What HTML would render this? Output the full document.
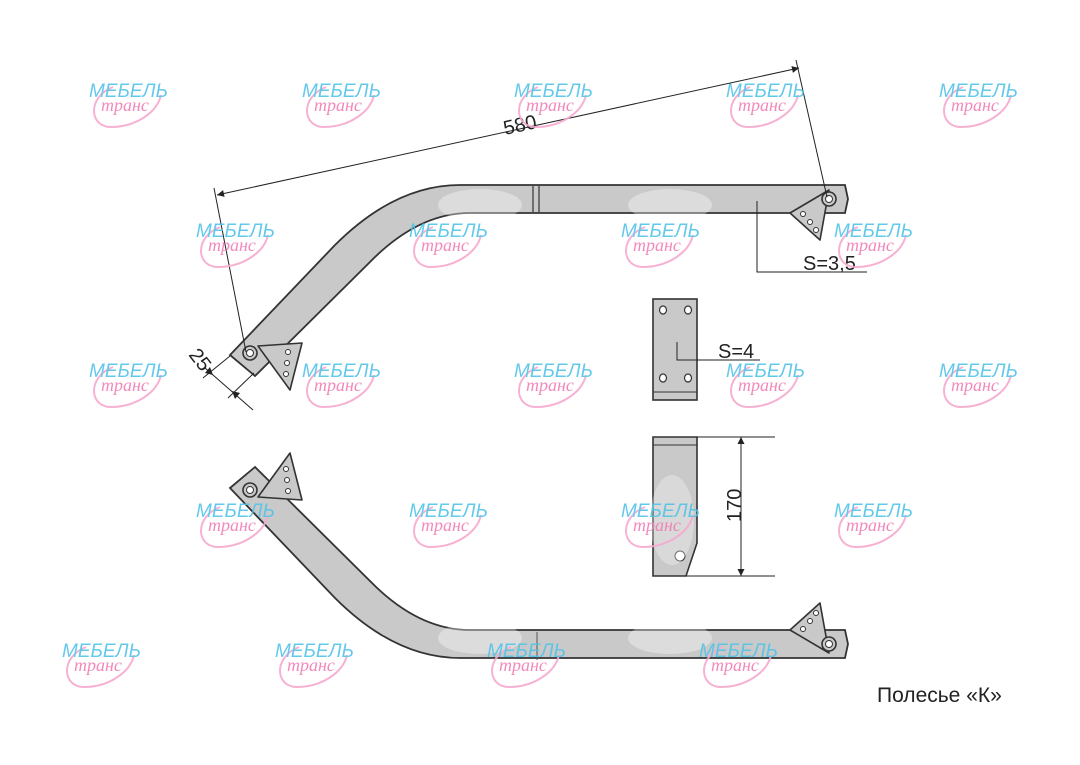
<!DOCTYPE html>
<html><head><meta charset="utf-8"><style>
html,body{margin:0;padding:0;background:#fff;width:1080px;height:765px;overflow:hidden}
svg{display:block}
text{font-family:"Liberation Sans",sans-serif}
.wm1{font-family:"Liberation Sans",sans-serif;font-style:italic;fill:#52c3e8;font-size:19px}
.wm2{font-family:"Liberation Serif",serif;font-style:italic;fill:#f17cb4;font-size:18px}
</style></head><body>
<svg width="1080" height="765" viewBox="0 0 1080 765" xmlns="http://www.w3.org/2000/svg">
<defs>
<g id="wm">
<path d="M-12,-10 C-38,0 -36,30 -14,30 C10,30 32,16 36,-2" fill="none" stroke="#f6a9cf" stroke-width="2"/>
<text x="-36" y="0" class="wm1">МЕБЕЛЬ</text>
<text x="-24" y="14" class="wm2">транс</text>
</g>
<marker id="ar" viewBox="0 0 10 10" refX="10" refY="5" markerWidth="13" markerHeight="7" orient="auto-start-reverse" markerUnits="userSpaceOnUse"><path d="M0,0 L10,5 L0,10z" fill="#222"/></marker>
<g id="bar">
<path d="M230,355 L335,245 Q395,185 460,185 L845,185 L848,199 L845,213 L470,213 Q418,213 370,262 L255,376 Z" fill="#c8c9c8" stroke="#333" stroke-width="1.8"/>
<path d="M258,346 L302,343 L290,390 Z" fill="#c8c9c8" stroke="#333" stroke-width="1.6" stroke-linejoin="round"/>
<circle cx="250" cy="353" r="7" fill="#c8c9c8" stroke="#333" stroke-width="1.6"/>
<circle cx="250" cy="353" r="3.5" fill="#fff" stroke="#333"/>
<circle cx="288" cy="352" r="2.5" fill="#fff" stroke="#333"/>
<circle cx="287" cy="363" r="2.5" fill="#fff" stroke="#333"/>
<circle cx="286" cy="374" r="2.5" fill="#fff" stroke="#333"/>
<path d="M829,190 L790,213 L820,240 Z" fill="#c8c9c8" stroke="#333" stroke-width="1.6" stroke-linejoin="round"/>
<circle cx="829" cy="199" r="7" fill="#c8c9c8" stroke="#333" stroke-width="1.6"/>
<circle cx="829" cy="199" r="3.5" fill="#fff" stroke="#333"/>
<circle cx="803" cy="214" r="2.5" fill="#fff" stroke="#333"/>
<circle cx="810" cy="222" r="2.5" fill="#fff" stroke="#333"/>
<circle cx="816" cy="230" r="2.5" fill="#fff" stroke="#333"/>
<ellipse cx="480" cy="205" rx="42" ry="16" fill="#fff" opacity="0.35"/>
<ellipse cx="670" cy="205" rx="42" ry="16" fill="#fff" opacity="0.35"/>
</g>
</defs>
<use href="#bar"/>
<line x1="533" y1="186" x2="533" y2="212" stroke="#333" stroke-width="1.2"/>
<line x1="539" y1="186" x2="539" y2="212" stroke="#333" stroke-width="1.2"/>
<g transform="translate(0,843) scale(1,-1)"><use href="#bar"/></g>
<line x1="537" y1="632" x2="537" y2="660" stroke="#555" stroke-width="1"/>
<line x1="214" y1="188" x2="246" y2="352" stroke="#222" stroke-width="1"/>
<line x1="796" y1="60" x2="827" y2="197" stroke="#222" stroke-width="1"/>
<line x1="217" y1="195" x2="799" y2="68" stroke="#222" stroke-width="1" marker-start="url(#ar)" marker-end="url(#ar)"/>
<text x="0" y="0" font-size="20" fill="#222" transform="translate(505,135) rotate(-12.3)">580</text>
<line x1="230" y1="356" x2="203" y2="378" stroke="#222" stroke-width="1"/>
<line x1="254" y1="373" x2="228" y2="398" stroke="#222" stroke-width="1"/>
<line x1="205" y1="368" x2="253" y2="410" stroke="#222" stroke-width="1"/>
<path d="M213,375 l-3,-8 l-5,6z M232,391 l3,8 l5,-6z" fill="#222"/>
<text x="0" y="0" font-size="20" fill="#222" transform="translate(188,355) rotate(52)">25</text>
<polyline points="757,201 757,272 867,272" fill="none" stroke="#222" stroke-width="1"/>
<text x="803" y="270" font-size="20" fill="#222">S=3,5</text>
<rect x="653" y="299" width="44" height="101" fill="#c8c9c8" stroke="#333" stroke-width="1.6"/>
<line x1="653" y1="392" x2="697" y2="392" stroke="#333" stroke-width="1"/>
<g fill="#fff" stroke="#333" stroke-width="1.2">
<ellipse cx="663" cy="310" rx="3.5" ry="4"/><ellipse cx="688" cy="310" rx="3.5" ry="4"/>
<ellipse cx="663" cy="378" rx="3.5" ry="4"/><ellipse cx="688" cy="378" rx="3.5" ry="4"/></g>
<polyline points="677,342 677,360 760,360" fill="none" stroke="#222" stroke-width="1"/>
<text x="718" y="358" font-size="20" fill="#222">S=4</text>
<path d="M653,437 L697,437 L697,543 L686,576 L653,576 Z" fill="#c8c9c8" stroke="#333" stroke-width="1.6"/>
<line x1="653" y1="445" x2="697" y2="445" stroke="#333" stroke-width="1"/>
<ellipse cx="680" cy="556" rx="5" ry="5" fill="#fff" stroke="#333"/>
<line x1="697" y1="437" x2="775" y2="437" stroke="#222" stroke-width="1"/>
<line x1="686" y1="576" x2="775" y2="576" stroke="#222" stroke-width="1"/>
<line x1="741" y1="437" x2="741" y2="576" stroke="#222" stroke-width="1" marker-start="url(#ar)" marker-end="url(#ar)"/>
<text x="0" y="0" font-size="20" fill="#222" transform="translate(741,522) rotate(-90)">170</text>
<ellipse cx="672" cy="520" rx="22" ry="45" fill="#fff" opacity="0.3"/>
<text x="877" y="702" font-size="21" fill="#222">Полесье «К»</text>
<g opacity="0.9">
<use href="#wm" x="125" y="97"/><use href="#wm" x="338" y="97"/><use href="#wm" x="550" y="97"/><use href="#wm" x="762" y="97"/><use href="#wm" x="975" y="97"/>
<use href="#wm" x="232" y="237"/><use href="#wm" x="445" y="237"/><use href="#wm" x="657" y="237"/><use href="#wm" x="870" y="237"/>
<use href="#wm" x="125" y="377"/><use href="#wm" x="338" y="377"/><use href="#wm" x="550" y="377"/><use href="#wm" x="762" y="377"/><use href="#wm" x="975" y="377"/>
<use href="#wm" x="232" y="517"/><use href="#wm" x="445" y="517"/><use href="#wm" x="657" y="517"/><use href="#wm" x="870" y="517"/>
<use href="#wm" x="98" y="657"/><use href="#wm" x="311" y="657"/><use href="#wm" x="523" y="657"/><use href="#wm" x="735" y="657"/>
</g>
</svg>
</body></html>
